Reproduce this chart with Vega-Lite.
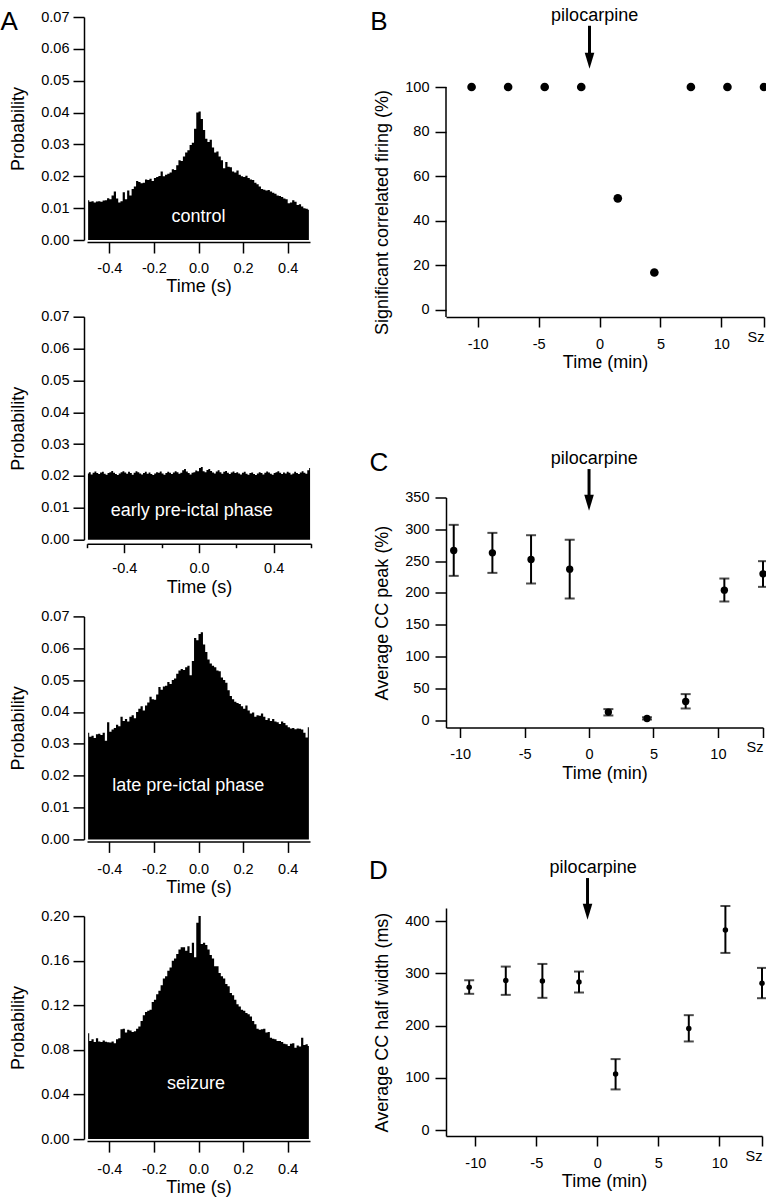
{
"$schema": "https://vega.github.io/schema/vega-lite/v6.json",
"background": "white",
"padding": {"left": 0, "top": 6, "right": 0, "bottom": 0},
"config": {
  "view": {"stroke": null},
  "font": "Liberation Sans",
  "axis": {"grid": false, "domainColor": "black", "domainWidth": 1.5, "tickColor": "black", "tickWidth": 1.5, "tickSize": 11, "labelColor": "black", "labelFontSize": 14.5, "titleFontSize": 18, "titleFontWeight": "normal", "titleColor": "black"}
},
"datasets": {
"a1": [{"t":-0.495,"p":0.0125},{"t":-0.485,"p":0.0120},{"t":-0.475,"p":0.0122},{"t":-0.465,"p":0.0118},{"t":-0.455,"p":0.0121},{"t":-0.445,"p":0.0122},{"t":-0.435,"p":0.0120},{"t":-0.425,"p":0.0124},{"t":-0.415,"p":0.0125},{"t":-0.405,"p":0.0131},
{"t":-0.395,"p":0.0128},{"t":-0.385,"p":0.0140},{"t":-0.375,"p":0.0152},{"t":-0.365,"p":0.0130},{"t":-0.355,"p":0.0118},{"t":-0.345,"p":0.0122},{"t":-0.335,"p":0.0150},{"t":-0.325,"p":0.0128},{"t":-0.315,"p":0.0155},{"t":-0.305,"p":0.0140},
{"t":-0.295,"p":0.0160},{"t":-0.285,"p":0.0168},{"t":-0.275,"p":0.0185},{"t":-0.265,"p":0.0182},{"t":-0.255,"p":0.0178},{"t":-0.245,"p":0.0180},{"t":-0.235,"p":0.0190},{"t":-0.225,"p":0.0188},{"t":-0.215,"p":0.0192},{"t":-0.205,"p":0.0185},
{"t":-0.195,"p":0.0195},{"t":-0.185,"p":0.0198},{"t":-0.175,"p":0.0201},{"t":-0.165,"p":0.0215},{"t":-0.155,"p":0.0200},{"t":-0.145,"p":0.0205},{"t":-0.135,"p":0.0208},{"t":-0.125,"p":0.0212},{"t":-0.115,"p":0.0222},{"t":-0.105,"p":0.0220},
{"t":-0.095,"p":0.0235},{"t":-0.085,"p":0.0250},{"t":-0.075,"p":0.0248},{"t":-0.065,"p":0.0262},{"t":-0.055,"p":0.0275},{"t":-0.045,"p":0.0282},{"t":-0.035,"p":0.0298},{"t":-0.025,"p":0.0305},{"t":-0.015,"p":0.0349},{"t":-0.005,"p":0.0400},
{"t":0.005,"p":0.0403},{"t":0.015,"p":0.0380},{"t":0.025,"p":0.0345},{"t":0.035,"p":0.0318},{"t":0.045,"p":0.0308},{"t":0.055,"p":0.0315},{"t":0.065,"p":0.0290},{"t":0.075,"p":0.0275},{"t":0.085,"p":0.0278},{"t":0.095,"p":0.0262},
{"t":0.105,"p":0.0250},{"t":0.115,"p":0.0225},{"t":0.125,"p":0.0245},{"t":0.135,"p":0.0230},{"t":0.145,"p":0.0228},{"t":0.155,"p":0.0215},{"t":0.165,"p":0.0212},{"t":0.175,"p":0.0218},{"t":0.185,"p":0.0205},{"t":0.195,"p":0.0200},
{"t":0.205,"p":0.0198},{"t":0.215,"p":0.0202},{"t":0.225,"p":0.0195},{"t":0.235,"p":0.0190},{"t":0.245,"p":0.0188},{"t":0.255,"p":0.0180},{"t":0.265,"p":0.0175},{"t":0.275,"p":0.0168},{"t":0.285,"p":0.0160},{"t":0.295,"p":0.0158},
{"t":0.305,"p":0.0155},{"t":0.315,"p":0.0157},{"t":0.325,"p":0.0152},{"t":0.335,"p":0.0148},{"t":0.345,"p":0.0145},{"t":0.355,"p":0.0140},{"t":0.365,"p":0.0138},{"t":0.375,"p":0.0135},{"t":0.385,"p":0.0130},{"t":0.395,"p":0.0128},
{"t":0.405,"p":0.0115},{"t":0.415,"p":0.0118},{"t":0.425,"p":0.0125},{"t":0.435,"p":0.0120},{"t":0.445,"p":0.0110},{"t":0.455,"p":0.0112},{"t":0.465,"p":0.0105},{"t":0.475,"p":0.0100},{"t":0.485,"p":0.0098},{"t":0.495,"p":0.0095}],
"a2": [{"t":-0.595,"p":0.0208},{"t":-0.585,"p":0.0212},{"t":-0.575,"p":0.0205},{"t":-0.565,"p":0.0210},{"t":-0.555,"p":0.0214},{"t":-0.545,"p":0.0209},{"t":-0.535,"p":0.0206},{"t":-0.525,"p":0.0211},{"t":-0.515,"p":0.0213},{"t":-0.505,"p":0.0207},
{"t":-0.495,"p":0.0204},{"t":-0.485,"p":0.0209},{"t":-0.475,"p":0.0212},{"t":-0.465,"p":0.0216},{"t":-0.455,"p":0.0210},{"t":-0.445,"p":0.0206},{"t":-0.435,"p":0.0203},{"t":-0.425,"p":0.0208},{"t":-0.415,"p":0.0212},{"t":-0.405,"p":0.0215},
{"t":-0.395,"p":0.0211},{"t":-0.385,"p":0.0207},{"t":-0.375,"p":0.0213},{"t":-0.365,"p":0.0209},{"t":-0.355,"p":0.0204},{"t":-0.345,"p":0.0210},{"t":-0.335,"p":0.0215},{"t":-0.325,"p":0.0212},{"t":-0.315,"p":0.0208},{"t":-0.305,"p":0.0205},
{"t":-0.295,"p":0.0209},{"t":-0.285,"p":0.0213},{"t":-0.275,"p":0.0207},{"t":-0.265,"p":0.0211},{"t":-0.255,"p":0.0206},{"t":-0.245,"p":0.0203},{"t":-0.235,"p":0.0208},{"t":-0.225,"p":0.0212},{"t":-0.215,"p":0.0210},{"t":-0.205,"p":0.0214},
{"t":-0.195,"p":0.0208},{"t":-0.185,"p":0.0204},{"t":-0.175,"p":0.0209},{"t":-0.165,"p":0.0213},{"t":-0.155,"p":0.0210},{"t":-0.145,"p":0.0206},{"t":-0.135,"p":0.0211},{"t":-0.125,"p":0.0215},{"t":-0.115,"p":0.0212},{"t":-0.105,"p":0.0207},
{"t":-0.095,"p":0.0210},{"t":-0.085,"p":0.0218},{"t":-0.075,"p":0.0222},{"t":-0.065,"p":0.0214},{"t":-0.055,"p":0.0209},{"t":-0.045,"p":0.0205},{"t":-0.035,"p":0.0210},{"t":-0.025,"p":0.0212},{"t":-0.015,"p":0.0217},{"t":-0.005,"p":0.0215},
{"t":0.005,"p":0.0225},{"t":0.015,"p":0.0228},{"t":0.025,"p":0.0215},{"t":0.035,"p":0.0212},{"t":0.045,"p":0.0219},{"t":0.055,"p":0.0222},{"t":0.065,"p":0.0216},{"t":0.075,"p":0.0211},{"t":0.085,"p":0.0208},{"t":0.095,"p":0.0214},
{"t":0.105,"p":0.0218},{"t":0.115,"p":0.0212},{"t":0.125,"p":0.0207},{"t":0.135,"p":0.0213},{"t":0.145,"p":0.0216},{"t":0.155,"p":0.0210},{"t":0.165,"p":0.0206},{"t":0.175,"p":0.0211},{"t":0.185,"p":0.0214},{"t":0.195,"p":0.0209},
{"t":0.205,"p":0.0212},{"t":0.215,"p":0.0208},{"t":0.225,"p":0.0205},{"t":0.235,"p":0.0210},{"t":0.245,"p":0.0213},{"t":0.255,"p":0.0207},{"t":0.265,"p":0.0204},{"t":0.275,"p":0.0209},{"t":0.285,"p":0.0211},{"t":0.295,"p":0.0206},
{"t":0.305,"p":0.0203},{"t":0.315,"p":0.0208},{"t":0.325,"p":0.0212},{"t":0.335,"p":0.0209},{"t":0.345,"p":0.0205},{"t":0.355,"p":0.0210},{"t":0.365,"p":0.0214},{"t":0.375,"p":0.0211},{"t":0.385,"p":0.0207},{"t":0.395,"p":0.0204},
{"t":0.405,"p":0.0209},{"t":0.415,"p":0.0212},{"t":0.425,"p":0.0215},{"t":0.435,"p":0.0210},{"t":0.445,"p":0.0206},{"t":0.455,"p":0.0211},{"t":0.465,"p":0.0208},{"t":0.475,"p":0.0213},{"t":0.485,"p":0.0210},{"t":0.495,"p":0.0205},
{"t":0.505,"p":0.0208},{"t":0.515,"p":0.0213},{"t":0.525,"p":0.0209},{"t":0.535,"p":0.0206},{"t":0.545,"p":0.0211},{"t":0.555,"p":0.0215},{"t":0.565,"p":0.0210},{"t":0.575,"p":0.0207},{"t":0.585,"p":0.0218},{"t":0.595,"p":0.0225}],
"a3": [{"t":-0.495,"p":0.0335},{"t":-0.485,"p":0.0322},{"t":-0.475,"p":0.0325},{"t":-0.465,"p":0.0318},{"t":-0.455,"p":0.0330},{"t":-0.445,"p":0.0332},{"t":-0.435,"p":0.0328},{"t":-0.425,"p":0.0335},{"t":-0.415,"p":0.0310},{"t":-0.405,"p":0.0368},
{"t":-0.395,"p":0.0338},{"t":-0.385,"p":0.0345},{"t":-0.375,"p":0.0350},{"t":-0.365,"p":0.0360},{"t":-0.355,"p":0.0355},{"t":-0.345,"p":0.0385},{"t":-0.335,"p":0.0372},{"t":-0.325,"p":0.0378},{"t":-0.315,"p":0.0370},{"t":-0.305,"p":0.0385},
{"t":-0.295,"p":0.0390},{"t":-0.285,"p":0.0380},{"t":-0.275,"p":0.0400},{"t":-0.265,"p":0.0410},{"t":-0.255,"p":0.0418},{"t":-0.245,"p":0.0405},{"t":-0.235,"p":0.0420},{"t":-0.225,"p":0.0430},{"t":-0.215,"p":0.0448},{"t":-0.205,"p":0.0440},
{"t":-0.195,"p":0.0438},{"t":-0.185,"p":0.0455},{"t":-0.175,"p":0.0478},{"t":-0.165,"p":0.0470},{"t":-0.155,"p":0.0480},{"t":-0.145,"p":0.0482},{"t":-0.135,"p":0.0494},{"t":-0.125,"p":0.0488},{"t":-0.115,"p":0.0500},{"t":-0.105,"p":0.0505},
{"t":-0.095,"p":0.0520},{"t":-0.085,"p":0.0530},{"t":-0.075,"p":0.0535},{"t":-0.065,"p":0.0532},{"t":-0.055,"p":0.0540},{"t":-0.045,"p":0.0545},{"t":-0.035,"p":0.0515},{"t":-0.025,"p":0.0560},{"t":-0.015,"p":0.0632},{"t":-0.005,"p":0.0625},
{"t":0.005,"p":0.0645},{"t":0.015,"p":0.0650},{"t":0.025,"p":0.0612},{"t":0.035,"p":0.0588},{"t":0.045,"p":0.0565},{"t":0.055,"p":0.0552},{"t":0.065,"p":0.0545},{"t":0.075,"p":0.0540},{"t":0.085,"p":0.0530},{"t":0.095,"p":0.0528},
{"t":0.105,"p":0.0508},{"t":0.115,"p":0.0500},{"t":0.125,"p":0.0492},{"t":0.135,"p":0.0468},{"t":0.145,"p":0.0450},{"t":0.155,"p":0.0440},{"t":0.165,"p":0.0432},{"t":0.175,"p":0.0428},{"t":0.185,"p":0.0425},{"t":0.195,"p":0.0418},
{"t":0.205,"p":0.0410},{"t":0.215,"p":0.0420},{"t":0.225,"p":0.0405},{"t":0.235,"p":0.0395},{"t":0.245,"p":0.0398},{"t":0.255,"p":0.0385},{"t":0.265,"p":0.0390},{"t":0.275,"p":0.0388},{"t":0.285,"p":0.0395},{"t":0.295,"p":0.0385},
{"t":0.305,"p":0.0375},{"t":0.315,"p":0.0380},{"t":0.325,"p":0.0372},{"t":0.335,"p":0.0378},{"t":0.345,"p":0.0370},{"t":0.355,"p":0.0368},{"t":0.365,"p":0.0362},{"t":0.375,"p":0.0370},{"t":0.385,"p":0.0365},{"t":0.395,"p":0.0358},
{"t":0.405,"p":0.0352},{"t":0.415,"p":0.0348},{"t":0.425,"p":0.0350},{"t":0.435,"p":0.0346},{"t":0.445,"p":0.0348},{"t":0.455,"p":0.0347},{"t":0.465,"p":0.0345},{"t":0.475,"p":0.0335},{"t":0.485,"p":0.0320},{"t":0.495,"p":0.0352}],
"a4": [{"t":-0.495,"p":0.0950},{"t":-0.485,"p":0.0880},{"t":-0.475,"p":0.0895},{"t":-0.465,"p":0.0870},{"t":-0.455,"p":0.0905},{"t":-0.445,"p":0.0875},{"t":-0.435,"p":0.0870},{"t":-0.425,"p":0.0885},{"t":-0.415,"p":0.0872},{"t":-0.405,"p":0.0868},
{"t":-0.395,"p":0.0866},{"t":-0.385,"p":0.0875},{"t":-0.375,"p":0.0860},{"t":-0.365,"p":0.0895},{"t":-0.355,"p":0.0905},{"t":-0.345,"p":0.0985},{"t":-0.335,"p":0.0990},{"t":-0.325,"p":0.0955},{"t":-0.315,"p":0.0980},{"t":-0.305,"p":0.0975},
{"t":-0.295,"p":0.0960},{"t":-0.285,"p":0.0968},{"t":-0.275,"p":0.0990},{"t":-0.265,"p":0.1010},{"t":-0.255,"p":0.1060},{"t":-0.245,"p":0.1110},{"t":-0.235,"p":0.1140},{"t":-0.225,"p":0.1150},{"t":-0.215,"p":0.1160},{"t":-0.205,"p":0.1230},
{"t":-0.195,"p":0.1250},{"t":-0.185,"p":0.1300},{"t":-0.175,"p":0.1330},{"t":-0.165,"p":0.1380},{"t":-0.155,"p":0.1440},{"t":-0.145,"p":0.1460},{"t":-0.135,"p":0.1510},{"t":-0.125,"p":0.1540},{"t":-0.115,"p":0.1600},{"t":-0.105,"p":0.1620},
{"t":-0.095,"p":0.1660},{"t":-0.085,"p":0.1700},{"t":-0.075,"p":0.1720},{"t":-0.065,"p":0.1720},{"t":-0.055,"p":0.1690},{"t":-0.045,"p":0.1730},{"t":-0.035,"p":0.1670},{"t":-0.025,"p":0.1760},{"t":-0.015,"p":0.1630},{"t":-0.005,"p":0.1940},
{"t":0.005,"p":0.2000},{"t":0.015,"p":0.1750},{"t":0.025,"p":0.1760},{"t":0.035,"p":0.1740},{"t":0.045,"p":0.1700},{"t":0.055,"p":0.1650},{"t":0.065,"p":0.1620},{"t":0.075,"p":0.1550},{"t":0.085,"p":0.1550},{"t":0.095,"p":0.1490},
{"t":0.105,"p":0.1460},{"t":0.115,"p":0.1440},{"t":0.125,"p":0.1390},{"t":0.135,"p":0.1370},{"t":0.145,"p":0.1310},{"t":0.155,"p":0.1290},{"t":0.165,"p":0.1250},{"t":0.175,"p":0.1210},{"t":0.185,"p":0.1190},{"t":0.195,"p":0.1160},
{"t":0.205,"p":0.1150},{"t":0.215,"p":0.1130},{"t":0.225,"p":0.1120},{"t":0.235,"p":0.1100},{"t":0.245,"p":0.1060},{"t":0.255,"p":0.1030},{"t":0.265,"p":0.0990},{"t":0.275,"p":0.0980},{"t":0.285,"p":0.0985},{"t":0.295,"p":0.0990},
{"t":0.305,"p":0.0955},{"t":0.315,"p":0.0960},{"t":0.325,"p":0.0910},{"t":0.335,"p":0.0900},{"t":0.345,"p":0.0895},{"t":0.355,"p":0.0880},{"t":0.365,"p":0.0880},{"t":0.375,"p":0.0870},{"t":0.385,"p":0.0855},{"t":0.395,"p":0.0850},
{"t":0.405,"p":0.0835},{"t":0.415,"p":0.0855},{"t":0.425,"p":0.0860},{"t":0.435,"p":0.0820},{"t":0.445,"p":0.0840},{"t":0.455,"p":0.0830},{"t":0.465,"p":0.0910},{"t":0.475,"p":0.0845},{"t":0.485,"p":0.0850},{"t":0.495,"p":0.0836}],
"b": [{"t":-10.5,"v":100},{"t":-7.5,"v":100},{"t":-4.5,"v":100},{"t":-1.5,"v":100},{"t":1.5,"v":50},{"t":4.5,"v":16.7},{"t":7.5,"v":100},{"t":10.5,"v":100},{"t":13.5,"v":100}],
"c": [{"t":-10.5,"v":266.6,"lo":226.8,"hi":307},{"t":-7.5,"v":263,"lo":231.5,"hi":294.4},{"t":-4.5,"v":252.5,"lo":214.8,"hi":290.7},{"t":-1.5,"v":237.3,"lo":191.2,"hi":283.4},{"t":1.5,"v":12.6,"lo":7.3,"hi":17.3},{"t":4.5,"v":2.6,"lo":1,"hi":4.5},{"t":7.5,"v":29.3,"lo":18.3,"hi":40.9},{"t":10.5,"v":204.3,"lo":186.5,"hi":222.6},{"t":13.5,"v":230,"lo":209.5,"hi":249.9}],
"d": [{"t":-10.5,"v":273.7,"lo":261,"hi":287},{"t":-7.5,"v":286.4,"lo":259,"hi":313.2},{"t":-4.5,"v":285.8,"lo":253.3,"hi":318.3},{"t":-1.5,"v":283.9,"lo":263.5,"hi":303.7},{"t":1.5,"v":107.2,"lo":77.8,"hi":135.9},{"t":7.5,"v":194.6,"lo":169.7,"hi":220.1},{"t":10.5,"v":383.4,"lo":339.4,"hi":429.3},{"t":13.5,"v":281.3,"lo":252.6,"hi":310.7}]
},
"spacing": 56,
"hconcat": [
 {"bounds": "flush", "spacing": 76.7, "vconcat": [
   {"width": 223, "height": 223, "resolve": {"axis": {"x": "independent", "y": "independent"}}, "layer": [
     {"data": {"name": "a1"}, "mark": {"type": "area", "interpolate": "step", "color": "black"},
      "encoding": {
       "x": {"field": "t", "type": "quantitative", "scale": {"domain": [-0.5, 0.5], "nice": false, "zero": false},
             "axis": {"orient": "bottom", "values": [-0.4, -0.2, 0, 0.2, 0.4], "labelExpr": "datum.value < 0 ? '-' + format(-datum.value, '.1f') : format(datum.value, '.1f')", "title": "Time (s)", "offset": 2, "labelPadding": 8, "titlePadding": 3}},
       "y": {"field": "p", "type": "quantitative", "stack": null, "scale": {"domain": [0, 0.07], "nice": false},
             "axis": {"orient": "left", "values": [0, 0.01, 0.02, 0.03, 0.04, 0.05, 0.06, 0.07], "format": ".2f", "title": "Probability", "offset": 3, "labelPadding": 4, "titlePadding": 13}}
      }},
     {"data": {"values": [{}]}, "mark": {"type": "text", "text": "control", "color": "white", "fontSize": 18, "align": "center"},
      "encoding": {"x": {"datum": 0.0, "axis": null}, "y": {"datum": 0.0071, "axis": null}}},
     {"data": {"values": [{}]}, "mark": {"type": "text", "text": "A", "color": "black", "fontSize": 26, "align": "center"},
      "encoding": {"x": {"datum": -0.849, "axis": null}, "y": {"datum": 0.0684, "axis": null}}}
   ]},
   {"width": 224, "height": 223, "resolve": {"axis": {"x": "independent", "y": "independent"}}, "layer": [
     {"data": {"name": "a2"}, "mark": {"type": "area", "interpolate": "step", "color": "black"},
      "encoding": {
       "x": {"field": "t", "type": "quantitative", "scale": {"domain": [-0.6, 0.6], "nice": false, "zero": false},
             "axis": {"orient": "bottom", "values": [-0.4, 0, 0.4], "labelExpr": "datum.value < 0 ? '-' + format(-datum.value, '.1f') : format(datum.value, '.1f')", "title": "Time (s)", "offset": 4, "tickSize": 9, "labelPadding": 9, "titlePadding": 3}},
       "y": {"field": "p", "type": "quantitative", "stack": null, "scale": {"domain": [0, 0.07], "nice": false},
             "axis": {"orient": "left", "values": [0, 0.01, 0.02, 0.03, 0.04, 0.05, 0.06, 0.07], "format": ".2f", "title": "Probability", "offset": 3, "labelPadding": 4, "titlePadding": 13}}
      }},
     {"data": {"values": [{}]}, "mark": {"type": "text", "text": "early pre-ictal phase", "color": "white", "fontSize": 18, "align": "center"},
      "encoding": {"x": {"datum": -0.039, "axis": {"orient": "bottom", "values": [-0.6, -0.2, 0.2, 0.6], "labels": false, "domain": false, "title": null, "tickSize": 4, "offset": 4}}, "y": {"datum": 0.0089, "axis": null}}}
   ]},
   {"width": 223, "height": 223, "resolve": {"axis": {"x": "independent", "y": "independent"}}, "layer": [
     {"data": {"name": "a3"}, "mark": {"type": "area", "interpolate": "step", "color": "black"},
      "encoding": {
       "x": {"field": "t", "type": "quantitative", "scale": {"domain": [-0.5, 0.5], "nice": false, "zero": false},
             "axis": {"orient": "bottom", "values": [-0.4, -0.2, 0, 0.2, 0.4], "labelExpr": "datum.value < 0 ? '-' + format(-datum.value, '.1f') : format(datum.value, '.1f')", "title": "Time (s)", "offset": 2, "labelPadding": 10, "titlePadding": 3}},
       "y": {"field": "p", "type": "quantitative", "stack": null, "scale": {"domain": [0, 0.07], "nice": false},
             "axis": {"orient": "left", "values": [0, 0.01, 0.02, 0.03, 0.04, 0.05, 0.06, 0.07], "format": ".2f", "title": "Probability", "offset": 3, "labelPadding": 4, "titlePadding": 13}}
      }},
     {"data": {"values": [{}]}, "mark": {"type": "text", "text": "late pre-ictal phase", "color": "white", "fontSize": 18, "align": "center"},
      "encoding": {"x": {"datum": -0.046, "axis": null}, "y": {"datum": 0.0168, "axis": null}}}
   ]},
   {"width": 223, "height": 223, "resolve": {"axis": {"x": "independent", "y": "independent"}}, "layer": [
     {"data": {"name": "a4"}, "mark": {"type": "area", "interpolate": "step", "color": "black"},
      "encoding": {
       "x": {"field": "t", "type": "quantitative", "scale": {"domain": [-0.5, 0.5], "nice": false, "zero": false},
             "axis": {"orient": "bottom", "values": [-0.4, -0.2, 0, 0.2, 0.4], "labelExpr": "datum.value < 0 ? '-' + format(-datum.value, '.1f') : format(datum.value, '.1f')", "title": "Time (s)", "offset": 2, "labelPadding": 10, "titlePadding": 3}},
       "y": {"field": "p", "type": "quantitative", "stack": null, "scale": {"domain": [0, 0.2], "nice": false},
             "axis": {"orient": "left", "values": [0, 0.04, 0.08, 0.12, 0.16, 0.2], "format": ".2f", "title": "Probability", "offset": 3, "labelPadding": 4, "titlePadding": 13}}
      }},
     {"data": {"values": [{}]}, "mark": {"type": "text", "text": "seizure", "color": "white", "fontSize": 18, "align": "center"},
      "encoding": {"x": {"datum": -0.011, "axis": null}, "y": {"datum": 0.0493, "axis": null}}}
   ]}
 ]},
 {"bounds": "flush", "spacing": 180.5, "vconcat": [
   {"width": 318, "height": 300, "resolve": {"axis": {"x": "independent", "y": "independent"}}, "layer": [
     {"data": {"name": "b"}, "mark": {"type": "point", "filled": true, "color": "black", "opacity": 1, "size": 75},
      "encoding": {
       "x": {"field": "t", "type": "quantitative", "scale": {"domain": [-12.6, 13.5], "nice": false, "zero": false},
             "axis": {"orient": "bottom", "values": [-10, -5, 0, 5, 10], "labelExpr": "datum.value < 0 ? '-' + format(-datum.value, 'd') : format(datum.value, 'd')", "title": "Time (min)", "tickSize": 10, "labelPadding": 10, "titlePadding": 3}},
       "y": {"field": "v", "type": "quantitative", "scale": {"domain": [-3.3, 131.44], "nice": false, "zero": false},
             "axis": {"orient": "left", "values": [0, 20, 40, 60, 80, 100], "domain": false, "title": "Significant correlated firing (%)", "titleY": 195, "labelPadding": 6, "titlePadding": 13}}
      }},
     {"data": {"values": [{}]}, "mark": {"type": "rule", "color": "black", "strokeWidth": 1.5},
      "encoding": {"x": {"datum": -12.6, "axis": null}, "y": {"datum": -3.3, "axis": null}, "y2": {"datum": 100}}},
     {"data": {"values": [{}]}, "mark": {"type": "text", "text": "pilocarpine", "color": "black", "fontSize": 18, "align": "center"},
      "encoding": {"x": {"datum": -0.4, "axis": null}, "y": {"datum": 131.9, "axis": null}}},
     {"data": {"values": [{}]}, "mark": {"type": "rule", "color": "black", "strokeWidth": 3},
      "encoding": {"x": {"datum": -0.82, "axis": null}, "y": {"datum": 127.5, "axis": null}, "y2": {"datum": 111.8}}},
     {"data": {"values": [{}]}, "mark": {"type": "point", "shape": "M-0.6,-1L0.6,-1L0,1Z", "filled": true, "color": "black", "opacity": 1, "size": 256},
      "encoding": {"x": {"datum": -0.82, "axis": null}, "y": {"datum": 111.8, "axis": null}}},
     {"data": {"values": [{}]}, "mark": {"type": "text", "text": "B", "color": "black", "fontSize": 26, "align": "center"},
      "encoding": {"x": {"datum": -18.1, "axis": {"orient": "bottom", "values": [13.5], "labelExpr": "'Sz'", "domain": false, "title": null, "tickSize": 10, "labelPadding": 3}}, "y": {"datum": 129.3, "axis": null}}}
   ]},
   {"width": 317, "height": 230, "resolve": {"axis": {"x": "independent", "y": "independent"}}, "layer": [
     {"data": {"name": "c"}, "mark": {"type": "rule", "color": "black", "strokeWidth": 2},
      "encoding": {
       "x": {"field": "t", "type": "quantitative", "scale": {"domain": [-11.1, 13.5], "nice": false, "zero": false},
             "axis": {"orient": "bottom", "values": [-10, -5, 0, 5, 10], "labelExpr": "datum.value < 0 ? '-' + format(-datum.value, 'd') : format(datum.value, 'd')", "title": "Time (min)", "tickSize": 10, "labelPadding": 10, "titlePadding": 3}},
       "y": {"field": "lo", "type": "quantitative", "scale": {"domain": [-11.6, 350], "nice": false, "zero": false},
             "axis": {"orient": "left", "values": [0, 50, 100, 150, 200, 250, 300, 350], "title": "Average CC peak (%)", "labelPadding": 6, "titlePadding": 13}},
       "y2": {"field": "hi"}
      }},
     {"data": {"name": "c"}, "mark": {"type": "tick", "orient": "horizontal", "color": "black", "size": 10, "thickness": 2},
      "encoding": {"x": {"field": "t", "type": "quantitative", "axis": null}, "y": {"field": "lo", "type": "quantitative", "axis": null}}},
     {"data": {"name": "c"}, "mark": {"type": "tick", "orient": "horizontal", "color": "black", "size": 10, "thickness": 2},
      "encoding": {"x": {"field": "t", "type": "quantitative", "axis": null}, "y": {"field": "hi", "type": "quantitative", "axis": null}}},
     {"data": {"name": "c"}, "mark": {"type": "point", "filled": true, "color": "black", "opacity": 1, "size": 54},
      "encoding": {"x": {"field": "t", "type": "quantitative", "axis": null}, "y": {"field": "v", "type": "quantitative", "axis": null}}},
     {"data": {"values": [{}]}, "mark": {"type": "text", "text": "pilocarpine", "color": "black", "fontSize": 18, "align": "center"},
      "encoding": {"x": {"datum": 0.4, "axis": null}, "y": {"datum": 411.3, "axis": null}}},
     {"data": {"values": [{}]}, "mark": {"type": "rule", "color": "black", "strokeWidth": 3},
      "encoding": {"x": {"datum": 0, "axis": null}, "y": {"datum": 394.7, "axis": null}, "y2": {"datum": 341.7}}},
     {"data": {"values": [{}]}, "mark": {"type": "point", "shape": "M-0.6,-1L0.6,-1L0,1Z", "filled": true, "color": "black", "opacity": 1, "size": 256},
      "encoding": {"x": {"datum": 0, "axis": null}, "y": {"datum": 341.7, "axis": null}}},
     {"data": {"values": [{}]}, "mark": {"type": "text", "text": "C", "color": "black", "fontSize": 26, "align": "center"},
      "encoding": {"x": {"datum": -16.3, "axis": {"orient": "bottom", "values": [13.5], "labelExpr": "'Sz'", "domain": false, "title": null, "tickSize": 10, "labelPadding": 3}}, "y": {"datum": 404.6, "axis": null}}}
   ]},
   {"width": 316, "height": 228, "resolve": {"axis": {"x": "independent", "y": "independent"}}, "layer": [
     {"data": {"name": "d"}, "mark": {"type": "rule", "color": "black", "strokeWidth": 2},
      "encoding": {
       "x": {"field": "t", "type": "quantitative", "scale": {"domain": [-12.4, 13.5], "nice": false, "zero": false},
             "axis": {"orient": "bottom", "values": [-10, -5, 0, 5, 10], "labelExpr": "datum.value < 0 ? '-' + format(-datum.value, 'd') : format(datum.value, 'd')", "title": "Time (min)", "tickSize": 10, "labelPadding": 10, "titlePadding": 3}},
       "y": {"field": "lo", "type": "quantitative", "scale": {"domain": [-11.5, 425.5], "nice": false, "zero": false},
             "axis": {"orient": "left", "values": [0, 100, 200, 300, 400], "title": "Average CC half width (ms)", "labelPadding": 6, "titlePadding": 13}},
       "y2": {"field": "hi"}
      }},
     {"data": {"name": "d"}, "mark": {"type": "tick", "orient": "horizontal", "color": "black", "size": 10, "thickness": 2},
      "encoding": {"x": {"field": "t", "type": "quantitative", "axis": null}, "y": {"field": "lo", "type": "quantitative", "axis": null}}},
     {"data": {"name": "d"}, "mark": {"type": "tick", "orient": "horizontal", "color": "black", "size": 10, "thickness": 2},
      "encoding": {"x": {"field": "t", "type": "quantitative", "axis": null}, "y": {"field": "hi", "type": "quantitative", "axis": null}}},
     {"data": {"name": "d"}, "mark": {"type": "point", "filled": true, "color": "black", "opacity": 1, "size": 30},
      "encoding": {"x": {"field": "t", "type": "quantitative", "axis": null}, "y": {"field": "v", "type": "quantitative", "axis": null}}},
     {"data": {"values": [{}]}, "mark": {"type": "text", "text": "pilocarpine", "color": "black", "fontSize": 18, "align": "center"},
      "encoding": {"x": {"datum": -0.34, "axis": null}, "y": {"datum": 502, "axis": null}}},
     {"data": {"values": [{}]}, "mark": {"type": "rule", "color": "black", "strokeWidth": 3},
      "encoding": {"x": {"datum": -0.8, "axis": null}, "y": {"datum": 482.9, "axis": null}, "y2": {"datum": 418.4}}},
     {"data": {"values": [{}]}, "mark": {"type": "point", "shape": "M-0.6,-1L0.6,-1L0,1Z", "filled": true, "color": "black", "opacity": 1, "size": 256},
      "encoding": {"x": {"datum": -0.8, "axis": null}, "y": {"datum": 418.4, "axis": null}}},
     {"data": {"values": [{}]}, "mark": {"type": "text", "text": "D", "color": "black", "fontSize": 26, "align": "center"},
      "encoding": {"x": {"datum": -17.95, "axis": {"orient": "bottom", "values": [13.5], "labelExpr": "'Sz'", "domain": false, "title": null, "tickSize": 10, "labelPadding": 3}}, "y": {"datum": 496.3, "axis": null}}}
   ]}
 ]}
]
}
